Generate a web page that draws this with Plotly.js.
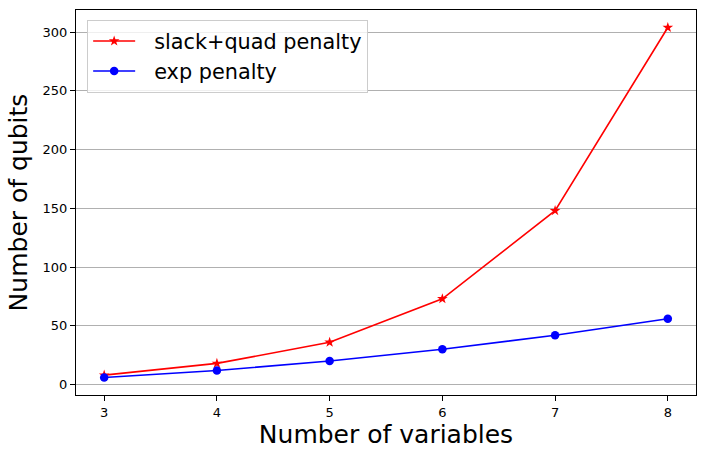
<!DOCTYPE html>
<html><head><meta charset="utf-8">
<script src="https://cdn.plot.ly/plotly-3.0.1.min.js"></script>
<style>body{margin:0;background:#fff}#c{width:705px;height:458px}</style>
</head><body><div id="c"></div>
<script>
const numVariables = [3, 4, 5, 6, 7, 8];
const slackQuadQubits = [8, 18, 36, 73, 148, 304];
const expQubits = [6, 12, 20, 30, 42, 56];
const seriesNames = ['slack+quad penalty', 'exp penalty'];
const yTicks = [0, 50, 100, 150, 200, 250, 300];

const traces = [
  {x: numVariables, y: slackQuadQubits, name: seriesNames[0], mode: 'lines+markers',
   line: {color: '#ff0000', width: 1.6}, marker: {symbol: 'star', size: 8, color: '#ff0000'}},
  {x: numVariables, y: expQubits, name: seriesNames[1], mode: 'lines+markers',
   line: {color: '#0000ff', width: 1.6}, marker: {symbol: 'circle', size: 8.5, color: '#0000ff'}}
];
const layout = {
  width: 705, height: 458,
  margin: {l: 76, r: 9, t: 10, b: 63},
  paper_bgcolor: '#fff', plot_bgcolor: '#fff',
  font: {family: 'DejaVu Sans', color: '#000', size: 13},
  xaxis: {range: [2.75, 8.25], tickvals: numVariables, ticks: 'outside', ticklen: 5, tickcolor: '#000',
    showgrid: false, zeroline: false, showline: true, linecolor: '#000', linewidth: 1, mirror: true,
    tickfont: {size: 13}, title: {text: 'Number of variables', font: {size: 25}, standoff: 6}},
  yaxis: {range: [-8.9, 318.9], tickvals: yTicks, ticks: 'outside', ticklen: 5, tickcolor: '#000',
    showgrid: true, gridcolor: '#b0b0b0', gridwidth: 1, zeroline: false, showline: true, linecolor: '#000', linewidth: 1, mirror: true,
    tickfont: {size: 13}, title: {text: 'Number of qubits', font: {size: 25}, standoff: 7}},
  showlegend: true,
  legend: {x: 0.018, y: 0.974, xanchor: 'left', yanchor: 'top', bgcolor: 'rgba(255,255,255,0.8)',
    bordercolor: '#cccccc', borderwidth: 1, font: {size: 20.8}, tracegroupgap: 0, itemwidth: 56}
};
Plotly.newPlot('c', traces, layout, {displayModeBar: false, staticPlot: true}).then(function (gd) {
  gd.querySelectorAll('.legend .legendlines path').forEach(function (p) {
    p.setAttribute('d', 'M5,0h42');
  });
  gd.querySelectorAll('.legend .legendpoints path').forEach(function (p) {
    p.setAttribute('transform', 'translate(26,0)');
  });
});
</script></body></html>
